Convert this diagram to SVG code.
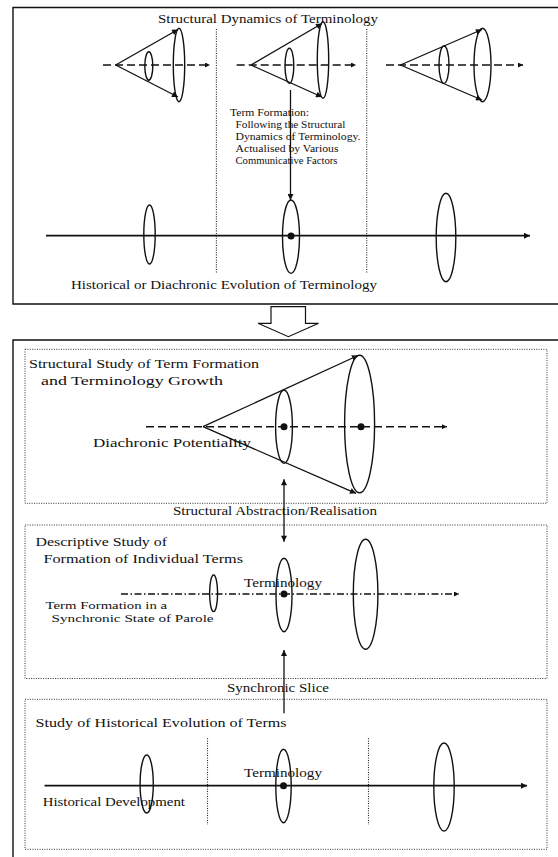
<svg xmlns="http://www.w3.org/2000/svg" width="558" height="857" viewBox="0 0 558 857">
  <style>
    .frame { fill: none; stroke: #111; stroke-width: 1.4; }
    .dotbox { fill: none; stroke: #333; stroke-width: 1; stroke-dasharray: 1 1.4; }
    .divider { fill: none; stroke: #222; stroke-width: 1.1; stroke-dasharray: 1 1.4; }
    .ring { fill: none; stroke: #111; stroke-width: 1.4; }
    .line { fill: none; stroke: #111; stroke-width: 1.3; }
    .axis { fill: none; stroke: #111; stroke-width: 1.7; }
    .dash { fill: none; stroke: #111; stroke-width: 1.6; stroke-dasharray: 8 4; }
    .dashdot { fill: none; stroke: #111; stroke-width: 1.5; stroke-dasharray: 7 2.5 1.5 2.5; }
    .dot { fill: #111; }
    .lbl { font-family: "Liberation Serif", "Times New Roman", serif; font-size: 13.5px; fill: #111; }
    .tight { font-size: 11px; }
    .note { font-family: "Liberation Serif", "Times New Roman", serif; font-size: 10px; fill: #111; }
  </style>
  <defs>
    <marker id="ah" viewBox="0 0 10 10" refX="10" refY="5" markerWidth="9" markerHeight="6" markerUnits="userSpaceOnUse" orient="auto-start-reverse">
      <path d="M0,0 L10,5 L0,10 z" fill="#111"/>
    </marker>
    <marker id="ahs" viewBox="0 0 10 10" refX="10" refY="5" markerWidth="7" markerHeight="5" markerUnits="userSpaceOnUse" orient="auto">
      <path d="M0,0 L10,5 L0,10 z" fill="#111"/>
    </marker>
  </defs>
  <rect width="558" height="857" fill="#fff"/>

  <!-- upper panel: structural dynamics over historical evolution -->
  <g id="panel-dynamics">
    <path class="frame" d="M558,7.5 H13 V304 H558"/>
    <text class="lbl" x="158" y="23" textLength="220" lengthAdjust="spacingAndGlyphs">Structural Dynamics of Terminology</text>
    <line class="divider" x1="216.4" y1="29" x2="216.4" y2="273"/>
    <line class="divider" x1="366.7" y1="29" x2="366.7" y2="273"/>
    <text class="lbl" x="71" y="288.5" textLength="306" lengthAdjust="spacingAndGlyphs">Historical or Diachronic Evolution of Terminology</text>
  </g>

  <g id="cone-1">
    <line class="dash" x1="103" y1="65" x2="210" y2="65" marker-end="url(#ahs)"/>
    <ellipse class="ring" cx="148.8" cy="66" rx="4" ry="14.2"/>
    <ellipse class="ring" cx="179" cy="65" rx="5.7" ry="36.7"/>
  </g>
  <g id="cone-2">
    <line class="dash" x1="236.7" y1="65" x2="356" y2="65" marker-end="url(#ahs)"/>
    <ellipse class="ring" cx="289.4" cy="65.8" rx="4.4" ry="17.5"/>
    <ellipse class="ring" cx="323" cy="60" rx="5.7" ry="38.3"/>
  </g>
  <g id="cone-3">
    <line class="dash" x1="386" y1="65" x2="523" y2="65" marker-end="url(#ahs)"/>
    <ellipse class="ring" cx="444" cy="64.7" rx="5" ry="18.7"/>
    <ellipse class="ring" cx="482.5" cy="65" rx="8.5" ry="36.7"/>
  </g>

  <g id="term-formation-note">
    <text class="note" x="230" y="116" textLength="79" lengthAdjust="spacingAndGlyphs">Term Formation:</text>
    <text class="note" x="235.5" y="128" textLength="110" lengthAdjust="spacingAndGlyphs">Following the Structural</text>
    <text class="note" x="235.5" y="140" textLength="125" lengthAdjust="spacingAndGlyphs">Dynamics of Terminology.</text>
    <text class="note" x="235.5" y="152" textLength="103" lengthAdjust="spacingAndGlyphs">Actualised by Various</text>
    <text class="note" x="235.5" y="164" textLength="102" lengthAdjust="spacingAndGlyphs">Communicative Factors</text>
  </g>

  <g id="history-axis">
    <line class="axis" x1="46" y1="235.7" x2="530" y2="235.7" marker-end="url(#ah)"/>
    <ellipse class="ring" cx="149.5" cy="234.5" rx="5.7" ry="29.5"/>
    <ellipse class="ring" cx="291" cy="236.7" rx="8.5" ry="36.7"/>
    <ellipse class="ring" cx="446" cy="237.5" rx="9.8" ry="44.2"/>
    <circle class="dot" cx="291" cy="236" r="3.5"/>
  </g>

  <!-- transition arrow between the panels -->
  <g id="transition-arrow">
    <polygon points="271,306.7 305.5,306.7 305.5,323.3 318.6,323.3 288.4,336.7 258,323.3 271,323.3" fill="#fff" stroke="#111" stroke-width="1.2"/>
  </g>

  <!-- lower panel -->
  <g id="panel-studies">
    <path class="frame" d="M558,340 H13 V857"/>
  </g>

  <g id="structural-study">
    <rect class="dotbox" x="25" y="349.3" width="522" height="154"/>
    <text class="lbl" x="29" y="367.5" textLength="230" lengthAdjust="spacingAndGlyphs">Structural Study of Term Formation</text>
    <text class="lbl" x="41" y="384.5" textLength="182" lengthAdjust="spacingAndGlyphs">and Terminology Growth</text>
    <line class="dash" x1="146" y1="426.7" x2="447" y2="426.7" marker-end="url(#ahs)"/>
    <ellipse class="ring" cx="284" cy="426.7" rx="8.4" ry="36.7"/>
    <ellipse class="ring" cx="359.6" cy="424" rx="15" ry="68.8"/>
    <circle class="dot" cx="284" cy="426.7" r="3.5"/>
    <circle class="dot" cx="361" cy="426.7" r="3.5"/>
    <text class="lbl" x="93" y="447" textLength="158" lengthAdjust="spacingAndGlyphs">Diachronic Potentiality</text>
  </g>

  <text id="abstraction-label" class="lbl" x="173" y="515" textLength="204" lengthAdjust="spacingAndGlyphs">Structural Abstraction/Realisation</text>

  <g id="descriptive-study">
    <rect class="dotbox" x="25" y="525" width="522" height="153.5"/>
    <text class="lbl" x="35.6" y="546" textLength="131.4" lengthAdjust="spacingAndGlyphs">Descriptive Study of</text>
    <text class="lbl" x="43.4" y="563" textLength="199.6" lengthAdjust="spacingAndGlyphs">Formation of Individual Terms</text>
    <line class="dashdot" x1="121" y1="594" x2="459" y2="594" marker-end="url(#ahs)"/>
    <ellipse class="ring" cx="213.6" cy="593.3" rx="4" ry="18.3"/>
    <ellipse class="ring" cx="284" cy="595" rx="8" ry="36.7"/>
    <ellipse class="ring" cx="365.6" cy="594.3" rx="12.3" ry="55"/>
    <circle class="dot" cx="284" cy="594" r="3.5"/>
    <text class="lbl" x="244" y="587" textLength="78" lengthAdjust="spacingAndGlyphs">Terminology</text>
    <text class="lbl tight" x="45.6" y="609" textLength="121.4" lengthAdjust="spacingAndGlyphs">Term Formation in a</text>
    <text class="lbl tight" x="51.6" y="622" textLength="162" lengthAdjust="spacingAndGlyphs">Synchronic State of Parole</text>
  </g>

  <text id="slice-label" class="lbl" x="227" y="692" textLength="102" lengthAdjust="spacingAndGlyphs">Synchronic Slice</text>

  <g id="historical-study">
    <rect class="dotbox" x="25" y="699.3" width="522" height="150"/>
    <text class="lbl" x="35.6" y="727" textLength="251" lengthAdjust="spacingAndGlyphs">Study of Historical Evolution of Terms</text>
    <line class="divider" x1="207.5" y1="738.3" x2="207.5" y2="825"/>
    <line class="divider" x1="368.5" y1="738.3" x2="368.5" y2="825"/>
    <line class="axis" x1="44.5" y1="785.7" x2="527" y2="785.7" marker-end="url(#ah)"/>
    <ellipse class="ring" cx="146.7" cy="784" rx="6.6" ry="29"/>
    <ellipse class="ring" cx="283.5" cy="786" rx="7.7" ry="36.7"/>
    <ellipse class="ring" cx="444" cy="787" rx="10.2" ry="44"/>
    <circle class="dot" cx="283.5" cy="785.7" r="3.5"/>
    <text class="lbl" x="244" y="777" textLength="78" lengthAdjust="spacingAndGlyphs">Terminology</text>
    <text class="lbl" x="42.7" y="806" textLength="142.3" lengthAdjust="spacingAndGlyphs">Historical Development</text>
  </g>

  <!-- connectors -->
  <g id="connectors">
    <line class="line" x1="115.7" y1="65" x2="178" y2="29.5" marker-end="url(#ah)"/>
    <line class="line" x1="115.7" y1="65" x2="178" y2="97" marker-end="url(#ah)"/>
    <line class="line" x1="251" y1="65" x2="322" y2="23.5" marker-end="url(#ah)"/>
    <line class="line" x1="251" y1="65" x2="322" y2="97" marker-end="url(#ah)"/>
    <line class="line" x1="400.4" y1="65" x2="482" y2="29.5" marker-end="url(#ah)"/>
    <line class="line" x1="400.4" y1="65" x2="482" y2="100" marker-end="url(#ah)"/>
    <line class="line" x1="290.5" y1="90" x2="290.5" y2="200" marker-end="url(#ah)"/>
    <line class="line" x1="203" y1="426.7" x2="358" y2="355.5" marker-end="url(#ah)"/>
    <line class="line" x1="203" y1="426.7" x2="356" y2="493.3" marker-end="url(#ah)"/>
    <line class="line" x1="284" y1="479.3" x2="284" y2="541.7" marker-start="url(#ah)" marker-end="url(#ah)"/>
    <line class="line" x1="284" y1="713.3" x2="284" y2="650" marker-end="url(#ah)"/>
  </g>
</svg>
